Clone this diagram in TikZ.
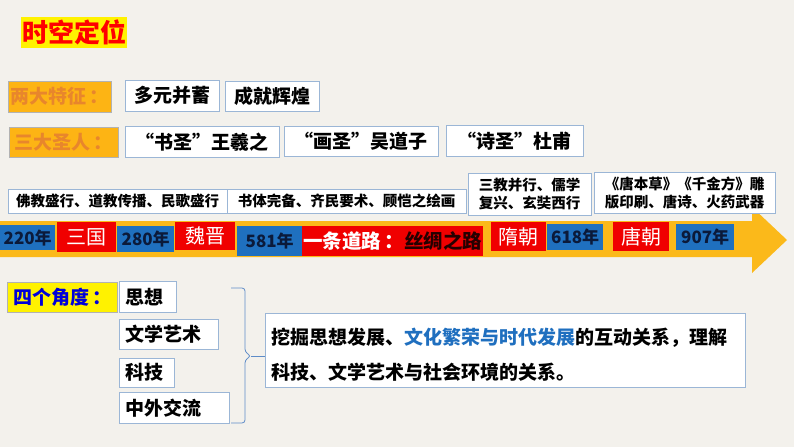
\documentclass[tikz,border=0pt]{standalone}
\usepackage{fontspec}
\setmainfont{Noto Sans CJK SC}
\usetikzlibrary{positioning}

\definecolor{paper}{HTML}{F3F1EC}
\definecolor{gold}{HTML}{FBB91A}
\definecolor{tagfill}{HTML}{FDB414}
\definecolor{tagtext}{HTML}{E8862C}
\definecolor{yearblue}{HTML}{1F70BF}
\definecolor{navy}{HTML}{0B1A3A}
\definecolor{erared}{HTML}{F00000}
\definecolor{edgeblue}{HTML}{9BB6D6}
\definecolor{bracecol}{HTML}{5E8CC8}
\definecolor{keyblue}{HTML}{1F6FBF}

\tikzset{
  tag/.style={draw=gray!60, fill=tagfill, text=tagtext, anchor=north west, inner sep=0pt,
    font=\bfseries\fontsize{19}{19}\selectfont},
  cell/.style={draw=edgeblue, fill=white, anchor=north west, inner sep=0pt,
    font=\bfseries\fontsize{19}{19}\selectfont},
  note/.style={draw=edgeblue, fill=white, anchor=north west, inner sep=0pt, align=center,
    font=\bfseries\fontsize{14.5}{18}\selectfont},
  year/.style={fill=yearblue, text=navy, anchor=north west, inner sep=0pt,
    font=\bfseries\fontsize{17}{17}\selectfont},
  era/.style={fill=erared, text=white, anchor=north west, inner sep=0pt,
    font=\fontsize{20}{20}\selectfont},
  angle/.style={cell, inner xsep=6pt, align=left, minimum height=31pt}
}

\begin{document}
\begin{tikzpicture}[x=1pt, y=-1pt]
        \fill [paper] (0,0) rectangle (794,447);
        \useasboundingbox (0,0) rectangle (794,447);
        % title
        \node [fill=yellow, text=red, anchor=north west, inner sep=0pt, minimum width=106pt, minimum height=31pt,
          font=\bfseries\fontsize{26}{26}\selectfont] (title) at (21,17) {时空定位};
        % two rows of tags
        \node [tag, minimum width=103pt, minimum height=31pt] (tezheng) at (8,81) {两大特征\,：};
        \node [cell, minimum width=94pt, minimum height=31pt] (duoyuan) at (125,80) {多元并蓄};
        \node [cell, minimum width=94pt, minimum height=30pt] (chengjiu) at (225,81) {成就辉煌};
        \node [tag, minimum width=109pt, minimum height=30pt] (shengren) at (9,127) {三大圣人\,：};
        \node [cell, minimum width=154pt, minimum height=31pt] (shusheng) at (125,126) {“书圣”王羲之};
        \node [cell, minimum width=154pt, minimum height=30pt] (huasheng) at (284,126) {“画圣”吴道子};
        \node [cell, minimum width=137pt, minimum height=31pt] (shisheng) at (446,125) {“诗圣”杜甫};
        % the time arrow
        \fill [gold] (0,221) -- (752,221) -- (752,207) -- (787,240) -- (752,273) -- (752,257) -- (0,257) -- cycle;
        % notes above the arrow
        \node [note, minimum width=219pt, minimum height=24pt] (fojiao) at (8,189) {佛教盛行、道教传播、民歌盛行};
        \node [note, minimum width=239pt, minimum height=24pt] (shuti) at (227,189) {书体完备、齐民要术、顾恺之绘画};
        \node [note, minimum width=123pt, minimum height=42pt] (sanjiao) at (468,173) {三教并行、儒学\\复兴、玄奘西行};
        \node [note, minimum width=181pt, minimum height=41pt] (tangbencao) at (594,172) {《唐本草》《千金方》雕\\版印刷、唐诗、火药武器};
        % years and eras
        \node [year, minimum width=55pt, minimum height=25pt] (y220) at (0,225) {220年};
        \node [era, minimum width=59pt, minimum height=30pt] (sanguo) at (57,222) {三国};
        \node [year, minimum width=57pt, minimum height=26pt] (y280) at (117,226) {280年};
        \node [era, minimum width=60pt, minimum height=28pt] (weijin) at (175,222) {魏晋};
        \node [year, minimum width=65pt, minimum height=30pt] (y581) at (237,226) {581年};
        \node [era, minimum width=181pt, minimum height=30pt, font=\bfseries\fontsize{19.5}{19.5}\selectfont] (silu) at (302,226)
          {一条道路\,：\textcolor{black!85!red}{丝绸之路}};
        \node [era, minimum width=55pt, minimum height=29pt] (suichao) at (491,222) {隋朝};
        \node [year, minimum width=56pt, minimum height=26pt] (y618) at (547,224) {618年};
        \node [era, minimum width=56pt, minimum height=29pt] (tangchao) at (613,222) {唐朝};
        \node [year, minimum width=58pt, minimum height=26pt] (y907) at (676,224) {907年};
        % four angles
        \node [tag, fill=yellow, text=blue!85!black, minimum width=110pt, minimum height=30pt] (jiaodu) at (7,282) {四个角度\,：};
        \node [angle, text width=45pt] (sixiang) at (119,281) {思想};
        \node [angle, text width=87pt, minimum height=30pt] (wenxue) at (119,319) {文学艺术};
        \node [angle, text width=43pt, minimum height=29pt] (keji) at (119,358) {科技};
        \node [angle, text width=98pt] (zhongwai) at (119,392) {中外交流};
        \node [cell, minimum width=480pt, minimum height=74pt, text width=468pt, align=left,
          font=\bfseries\fontsize{19}{35}\selectfont] (wajue) at (265,313)
          {\rule{0pt}{26pt}挖掘思想发展、\textcolor{keyblue}{文化繁荣与时代发展}的互动关系，理解\\科技、文学艺术与社会环境的关系。};
        % brace
        \coordinate (tip) at (251,356);
        \draw [bracecol, thick, rounded corners=3pt] (231,288) -- (245,288) -- (245,352) -- (tip) -- (245,360) -- (245,423) -- (231,423);
        \draw [bracecol, thick] (tip) -- (tip -| wajue.west);
\end{tikzpicture}
\end{document}
